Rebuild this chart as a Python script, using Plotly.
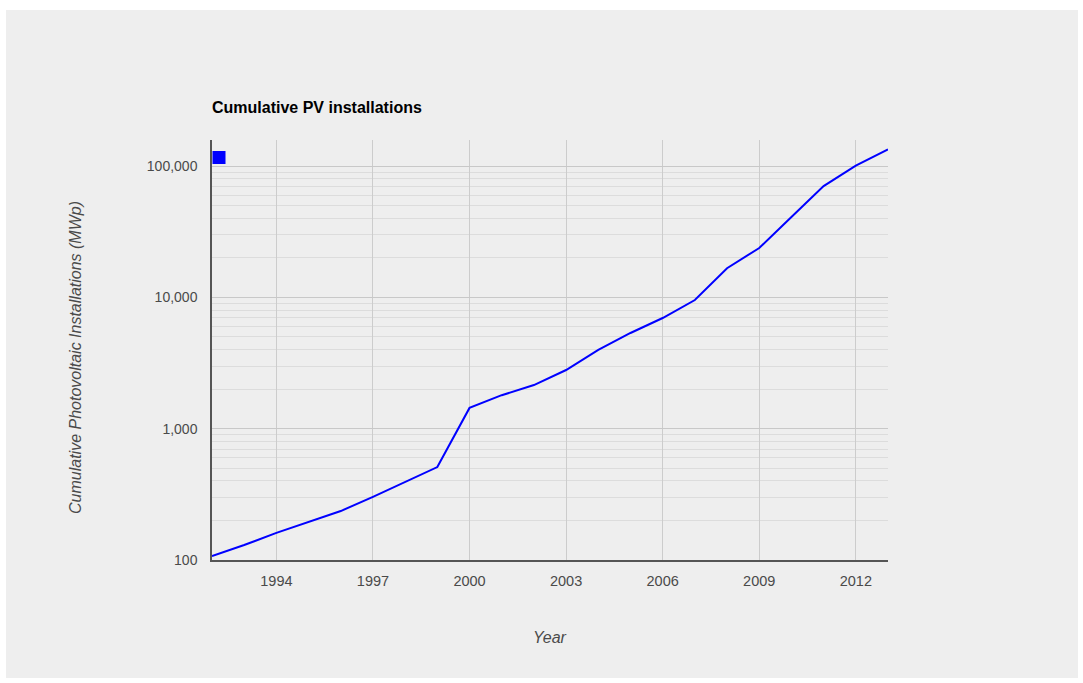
import plotly.graph_objects as go

# Cumulative photovoltaic installations, MWp
years = [1992, 1993, 1994, 1995, 1996, 1997, 1998, 1999, 2000, 2001, 2002,
         2003, 2004, 2005, 2006, 2007, 2008, 2009, 2010, 2011, 2012, 2013]
cumulative_mwp = [107, 130, 161, 195, 236, 303, 393, 510, 1440, 1800, 2150,
                  2800, 3980, 5360, 6970, 9550, 16700, 23800, 41000, 70500,
                  101000, 134000]

y_tick_vals = [100, 1000, 10000, 100000]
y_tick_text = ["100", "1,000", "10,000", "100,000"]

W, H = 1083, 683
ML, MR, MT, MB = 212, 195, 140, 123
PW, PH = W - ML - MR, H - MT - MB


def px_x(p):
    return (p - ML) / PW


def px_y(p):
    return (H - MB - p) / PH


FONT = "Arial, Liberation Sans, sans-serif"
BG = "#eeeeee"
TEXT = "#4a4a4a"

fig = go.Figure()
fig.add_trace(go.Scatter(
    x=years, y=cumulative_mwp, mode="lines",
    line=dict(color="#0000ff", width=2),
    legendgroup="pv", showlegend=False,
    hovertemplate="%{x}: %{y:,}<extra></extra>",
))
# Legend key: a square swatch with no label
fig.add_trace(go.Scatter(
    x=[None], y=[None], mode="markers", name="",
    marker=dict(symbol="square", size=13, color="#0000ff"),
    legendgroup="pv", showlegend=True,
))

fig.update_layout(
    width=W, height=H,
    margin=dict(l=ML, r=MR, t=MT, b=MB),
    paper_bgcolor="#ffffff",
    plot_bgcolor=BG,
    font=dict(family=FONT, size=14, color=TEXT),
    title=dict(
        text="<b>Cumulative PV installations</b>",
        x=ML / W, xanchor="left", xref="container",
        y=1 - 107 / H, yanchor="middle", yref="container",
        font=dict(family=FONT, size=16, color="#000000"),
    ),
    showlegend=True,
    legend=dict(
        x=px_x(199), y=px_y(143), xanchor="left", yanchor="top",
        bgcolor="rgba(0,0,0,0)", itemwidth=30,
        font=dict(size=12),
    ),
    xaxis=dict(
        range=[1992, 2013],
        tick0=1994, dtick=3, tickformat="d",
        showgrid=True, gridcolor="#cccccc", gridwidth=1,
        zeroline=False,
        showline=True, linecolor="#555555", linewidth=1.5,
        ticks="", ticklabelstandoff=7,
        tickfont=dict(size=14.5, color=TEXT),
    ),
    yaxis=dict(
        type="log", range=[2, 5.199],
        tickvals=y_tick_vals, ticktext=y_tick_text,
        showgrid=True, gridcolor="#c8c8c8", gridwidth=1,
        minor=dict(dtick="D1", showgrid=True, gridcolor="#dcdcdc", ticks=""),
        zeroline=False,
        showline=True, linecolor="#555555", linewidth=1.5,
        ticks="", ticklabelstandoff=10,
        tickfont=dict(size=14, color=TEXT),
    ),
    shapes=[dict(
        type="rect", xref="paper", yref="paper", layer="below",
        x0=px_x(6), x1=px_x(1078), y0=px_y(678), y1=px_y(10),
        fillcolor=BG, line=dict(width=0),
    )],
    annotations=[
        dict(text="<i>Year</i>", xref="paper", yref="paper",
             x=0.5, y=px_y(637), showarrow=False,
             xanchor="center", yanchor="middle",
             font=dict(family=FONT, size=16, color=TEXT)),
        dict(text="<i>Cumulative Photovoltaic Installations (MWp)</i>",
             xref="paper", yref="paper", textangle=-90,
             x=px_x(75), y=px_y(358), showarrow=False,
             xanchor="center", yanchor="middle",
             font=dict(family=FONT, size=16, color=TEXT)),
    ],
)

fig.write_html("out.html")
